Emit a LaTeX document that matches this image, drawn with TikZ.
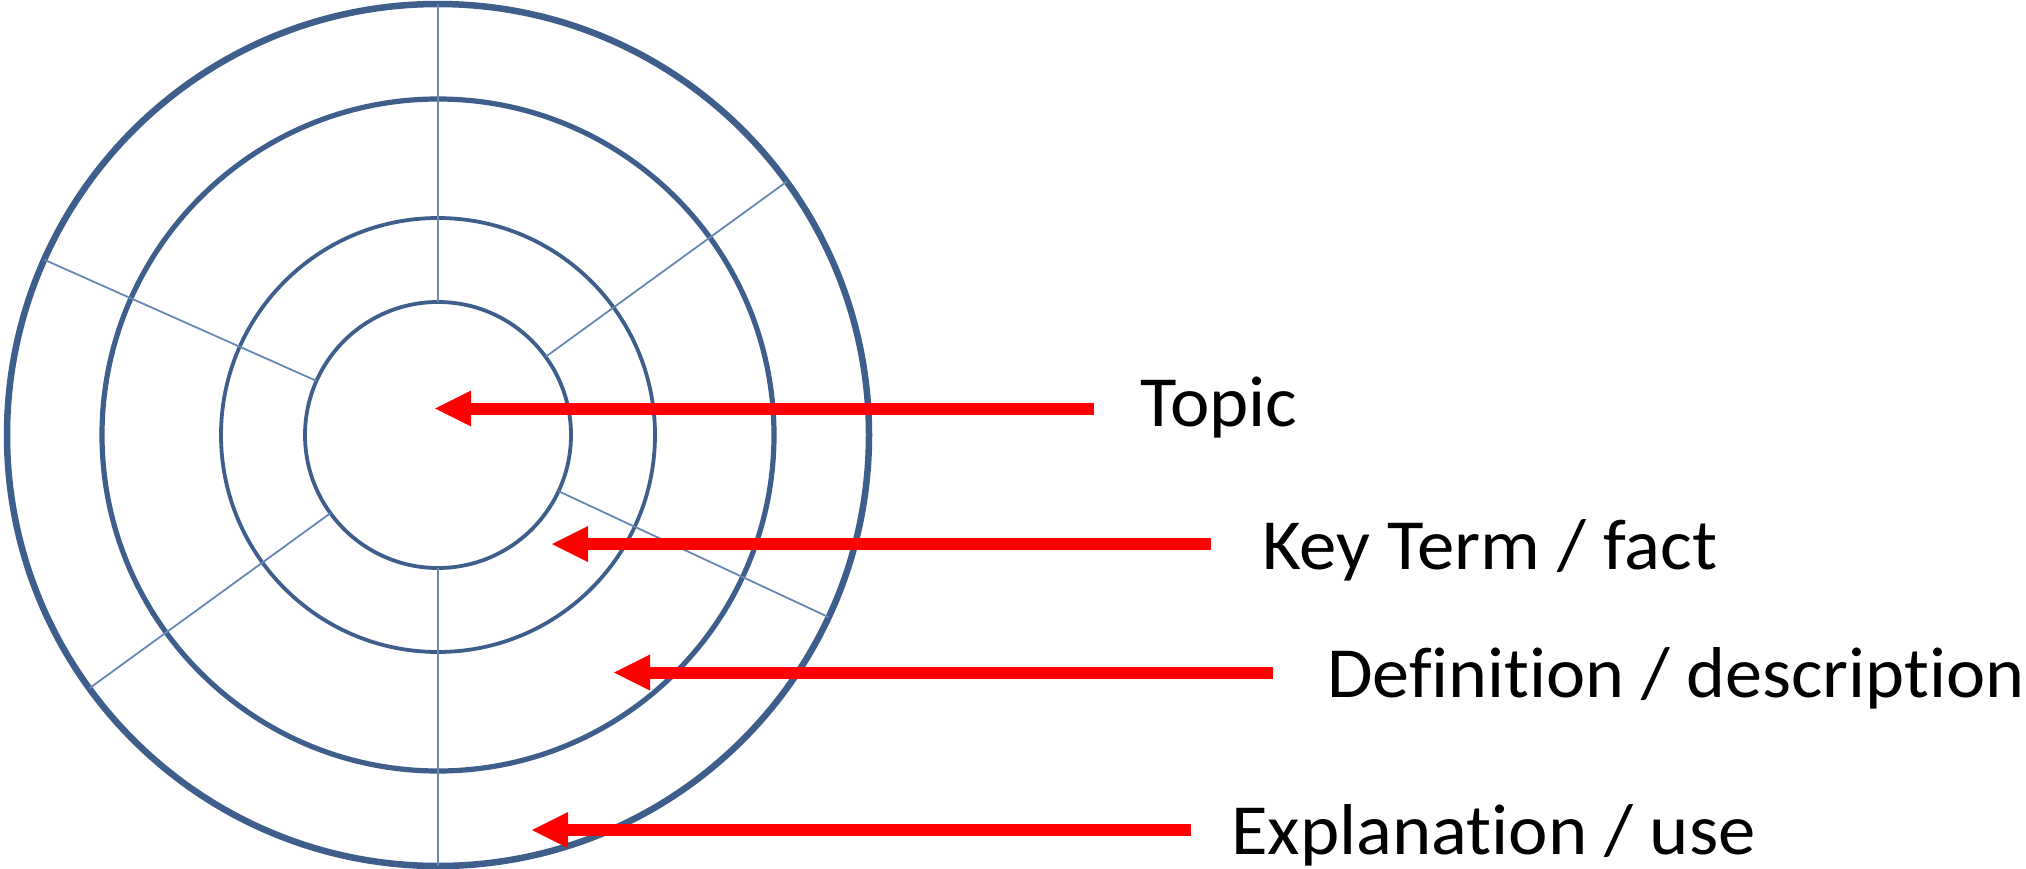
\documentclass[tikz,border=0pt]{standalone}
\usepackage{fontspec}
\setmainfont{Carlito}[RawFeature={-liga}]
\usetikzlibrary{arrows.meta}
\definecolor{ringblue}{RGB}{62,94,140}
\definecolor{spokeblue}{RGB}{104,136,180}
\definecolor{arrowred}{RGB}{255,0,0}
\begin{document}
\begin{tikzpicture}[x=1pt,y=-1pt,
  ring/.style={circle,draw=ringblue,inner sep=0pt,outer sep=0pt},
  spoke/.style={draw=spokeblue,line width=1.8pt},
  pointer/.style={draw=arrowred,line width=12pt,-{Triangle[length=36pt,width=36pt,line width=0pt]}},
  captiontext/.style={anchor=base west,inner sep=0pt,font=\fontsize{72}{86}\selectfont}]
\useasboundingbox (0,0) rectangle (2026,869);
\coordinate (ctr) at (438,435);
\node[ring,line width=6.5pt,minimum size=862pt] (r4) at (ctr) {};
\node[ring,line width=5.2pt,minimum size=672pt] (r3) at (ctr) {};
\node[ring,line width=3.8pt,minimum size=434pt] (r2) at (ctr) {};
\node[ring,line width=3.8pt,minimum size=266pt] (r1) at (ctr) {};
\foreach \a in {90,36,335,270,216,156} \draw[spoke] (r1.\a) -- (r4.\a);
% labels
\node[captiontext] (topic) at (1140,426) {\scalebox{1.037}[1]{Topic}};
\node[captiontext] (keyterm) at (1262,569) {\scalebox{1.04}[1]{Key Term / fact}};
\node[captiontext] (defn) at (1327,697) {\scalebox{1.03}[1]{Definition / description}};
\node[captiontext] (expl) at (1231,854) {\scalebox{1.038}[1]{Explanation / use}};
% arrow ends
\coordinate (topicTail) at (1094,408.5);
\coordinate (topicTip) at (435,408.5);
\coordinate (keyTail) at (1211,544);
\coordinate (keyTip) at (552,544);
\coordinate (defTail) at (1273,672.5);
\coordinate (defTip) at (614,672.5);
\coordinate (explTail) at (1191,830);
\coordinate (explTip) at (532,830);
\draw[pointer] (topicTail) -- (topicTip);
\draw[pointer] (keyTail) -- (keyTip);
\draw[pointer] (defTail) -- (defTip);
\draw[pointer] (explTail) -- (explTip);
\end{tikzpicture}
\end{document}
